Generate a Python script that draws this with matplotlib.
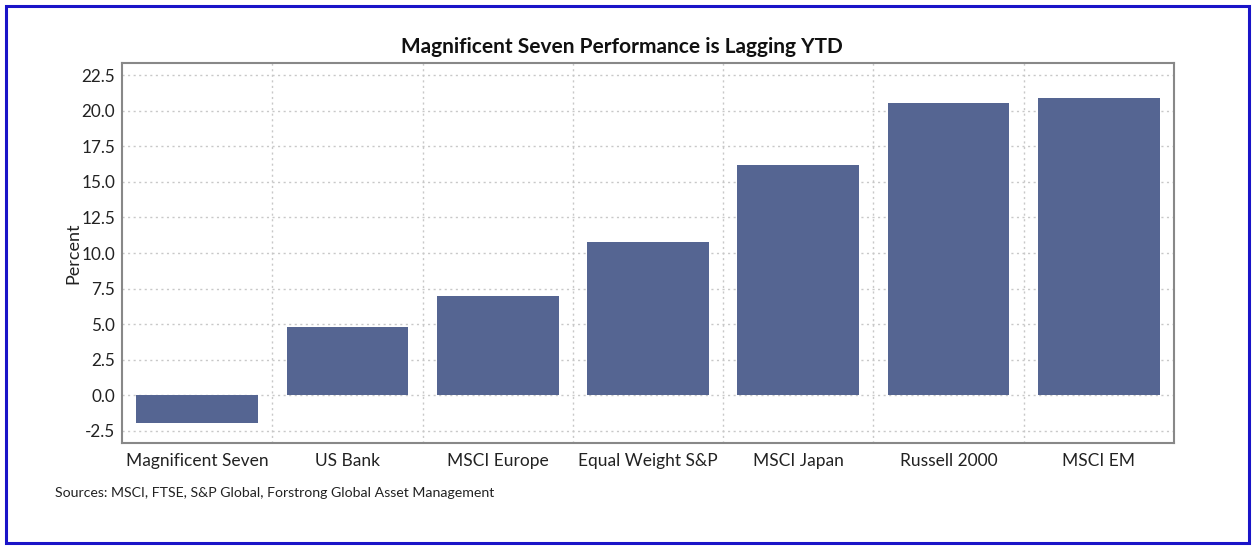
import numpy as np
import matplotlib
matplotlib.use("Agg")
import matplotlib.pyplot as plt
from matplotlib.patches import Rectangle

plt.rcParams['font.family'] = ['Lato', 'DejaVu Sans']

categories = ["Magnificent Seven", "US Bank", "MSCI Europe", "Equal Weight S&P",
              "MSCI Japan", "Russell 2000", "MSCI EM"]
values = [-1.95, 4.8, 7.0, 10.8, 16.2, 20.55, 20.9]
yticks = [-2.5, 0.0, 2.5, 5.0, 7.5, 10.0, 12.5, 15.0, 17.5, 20.0, 22.5]

fig = plt.figure(figsize=(12.56, 5.49), dpi=100)
ax = fig.add_axes([122/1256, 1-443/549, (1174-122)/1256, (443-63)/549])

x = np.arange(len(categories))
ax.bar(x, values, width=0.81, color="#556592", zorder=3)

ax.set_xlim(-0.5, 6.5)
ax.set_ylim(-3.38, 23.38)
ax.set_yticks(yticks)
ax.set_yticklabels([f"{v:.1f}" for v in yticks], fontsize=12.3, color="#222222")
ax.set_xticks(x)
ax.set_xticklabels(categories, fontsize=12.5, color="#222222")
ax.set_xticks(x[:-1] + 0.5, minor=True)
ax.tick_params(axis="both", which="both", length=0, pad=5)
ax.tick_params(axis="x", pad=7)

ax.grid(axis="y", which="major", linestyle=(0, (1.5, 2.5)), color="#c8c8c8", linewidth=1.0, zorder=0)
ax.grid(axis="x", which="minor", linestyle=(0, (1.5, 2.5)), color="#c8c8c8", linewidth=1.0, zorder=0)
for s in ax.spines.values():
    s.set_color("#888888")
    s.set_linewidth(1.5)

ax.set_ylabel("Percent", fontsize=13, color="#222222", labelpad=0)

fig.text(622/1256, 1-47/549, "Magnificent Seven Performance is Lagging YTD", fontsize=15,
         fontweight="bold", color="#111111", ha="center", va="center")

fig.text(55/1256, 1-493/549, "Sources: MSCI, FTSE, S&P Global, Forstrong Global Asset Management",
         fontsize=10.2, color="#222222", va="center")

fig.patches.append(Rectangle((6/1256, 6/549), 1243/1256, 537/549, transform=fig.transFigure,
                             fill=False, edgecolor="#1a14c8", linewidth=2.2))

fig.savefig("out.png", dpi=100)
